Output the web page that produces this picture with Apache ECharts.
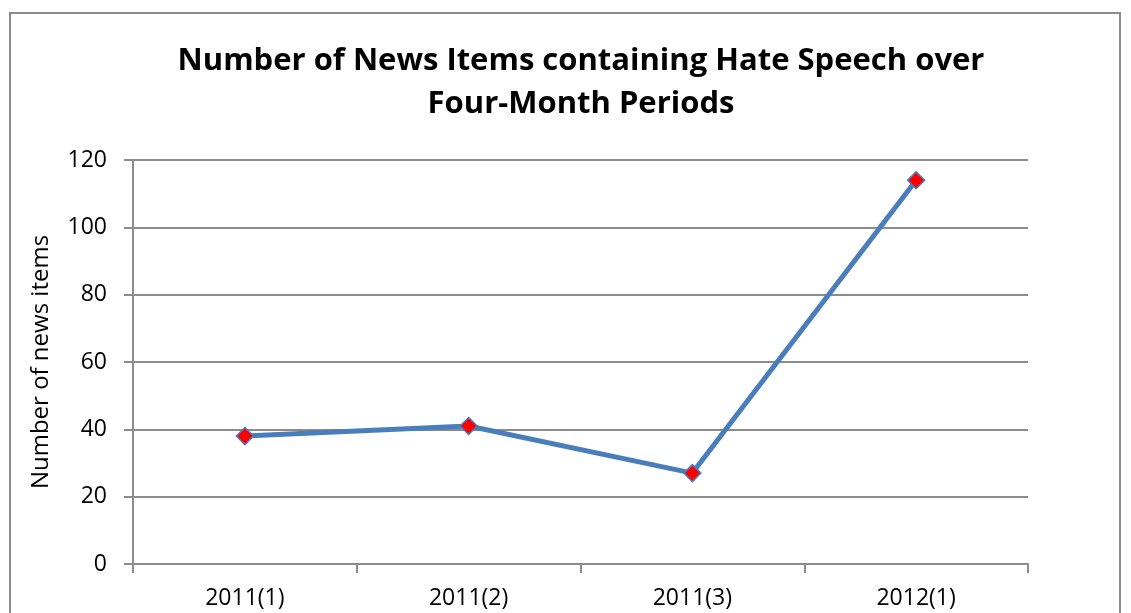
<!DOCTYPE html>
<html>
<head>
<meta charset="utf-8">
<script src="https://cdn.jsdelivr.net/npm/echarts@6/dist/echarts.min.js"></script>
<style>
  html, body { margin: 0; padding: 0; background: #fff; }
  #frame {
    position: absolute; left: 9px; top: 12px; width: 1112px; height: 640px;
    border: 2px solid #8c8c8c; box-sizing: border-box;
  }
  #chart { position: absolute; left: 0; top: 0; width: 1131px; height: 613px; }
</style>
</head>
<body>
<div id="frame"></div>
<div id="chart"></div>
<script>
const titleText = 'Number of News Items containing Hate Speech over\nFour-Month Periods'
const yAxisName = 'Number of news items'
const periods = ['2011(1)', '2011(2)', '2011(3)', '2012(1)']
const newsItems = [38, 41, 27, 114]

const chart = echarts.init(document.getElementById('chart'))
const gridColor = '#8c8c8c'
const fontFamily = '"Open Sans", "DejaVu Sans", sans-serif'

chart.setOption({
  backgroundColor: 'transparent',
  animation: false,
  title: {
    text: titleText,
    left: 576,
    top: 35,
    textAlign: 'center',
    textStyle: {
      fontFamily,
      fontSize: 31,
      fontWeight: 'bold',
      color: '#000',
      lineHeight: 43,
    },
  },
  grid: { left: 133, right: 103, top: 160, bottom: 49 },
  xAxis: {
    type: 'category',
    data: periods,
    boundaryGap: true,
    axisLine: { lineStyle: { color: gridColor, width: 2 } },
    axisTick: { show: true, length: 9, lineStyle: { color: gridColor, width: 2 } },
    axisLabel: { color: '#000', fontFamily, fontSize: 23, margin: 23 },
  },
  yAxis: {
    type: 'value',
    min: 0,
    max: 120,
    interval: 20,
    name: yAxisName,
    nameLocation: 'middle',
    nameRotate: 90,
    nameGap: 80,
    nameTextStyle: { color: '#000', fontFamily, fontSize: 24 },
    axisLine: { show: true, lineStyle: { color: gridColor, width: 2 } },
    axisTick: { show: true, length: 9, lineStyle: { color: gridColor, width: 2 } },
    axisLabel: { color: '#000', fontFamily, fontSize: 23, margin: 26 },
    splitLine: { lineStyle: { color: gridColor, width: 2 } },
  },
  series: [
    {
      type: 'line',
      data: newsItems,
      lineStyle: { color: '#4a7ebb', width: 5 },
      symbol: 'diamond',
      symbolSize: 17,
      itemStyle: { color: '#ff0000', borderColor: '#4a7ebb', borderWidth: 1.5 },
    },
  ],
})
</script>
</body>
</html>
